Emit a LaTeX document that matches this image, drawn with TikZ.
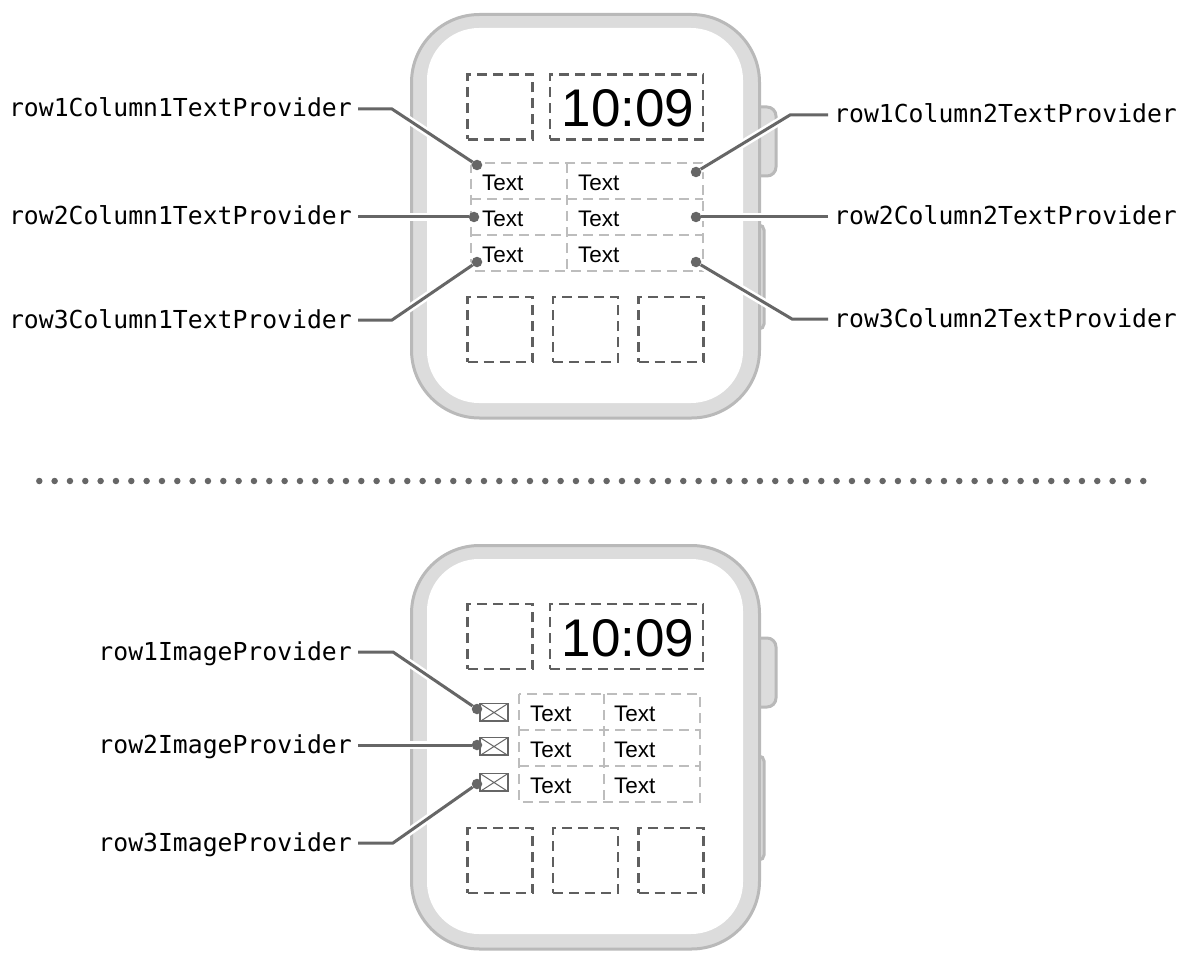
\documentclass[tikz,border=0pt]{standalone}
\usepackage{fontspec}
\setmainfont{Liberation Sans}
\setmonofont{DejaVu Sans Mono}
\usetikzlibrary{calc}
\definecolor{caseline}{HTML}{B9B9B9}
\definecolor{casefill}{HTML}{DCDCDC}
\definecolor{leadcol}{HTML}{666666}
\definecolor{slotcol}{HTML}{5F5F5F}
\definecolor{gridcol}{HTML}{BDBDBD}
\tikzset{
    casepart/.style={draw=caseline, fill=casefill, line width=3pt},
    slot/.style={draw=slotcol, line width=2.5pt, dash pattern=on 10pt off 6pt, inner sep=0pt, minimum width=65pt, minimum height=65pt},
    gridline/.style={draw=gridcol, line width=2.5pt, dash pattern=on 10pt off 6pt},
    clock/.style={font=\fontsize{53}{53}\selectfont, text=black},
    celltext/.style={anchor=base west, inner sep=0pt, font=\fontsize{22.5}{22.5}\selectfont},
    provider/.style={font=\ttfamily\fontsize{24.75}{24.75}\selectfont, inner sep=6pt, text height=17pt, text depth=1pt},
    leftlabel/.style={provider, anchor=east},
    rightlabel/.style={provider, anchor=west},
    pin/.style={circle, fill=leadcol, inner sep=0pt, minimum size=10.5pt},
    leader/.style={draw=leadcol, line width=3pt, preaction={draw=white, line width=8pt}},
    sepdot/.style={circle, fill=leadcol, inner sep=0pt, minimum size=6.5pt},
    mailicon/.style={draw=leadcol, line width=1.2pt, inner sep=0pt, minimum width=28pt, minimum height=18pt,
        path picture={\draw[leadcol, line width=1pt] (path picture bounding box.north west) -- (path picture bounding box.south east)
            (path picture bounding box.north east) -- (path picture bounding box.south west);
            \draw[leadcol, line width=3pt] (path picture bounding box.south west) -- (path picture bounding box.south east);}},
}
\newcommand{\WatchCase}[3]{
    \begin{scope}[shift={(0,#1)}]
        \path[casepart] (759,107) -- (766,107) [rounded corners=9pt] -- (776,107) -- (776,176) [sharp corners] -- (759,176) -- cycle;
        \path[casepart] (759,225) [rounded corners=5pt] -- (764,225) -- (764,329) [sharp corners] -- (759,329) -- cycle;
        \path[casepart, rounded corners=68pt] (411.5,14.5) rectangle (759.5,418);
        \fill[white, rounded corners=52pt] (427,28) rectangle (743,403);
        \node[slot] (#2tl) at (500,#3) {};
        \node[slot, minimum width=153pt] (#2time) at (626.5,#3) {};
        \node[clock] (#2clock) at (628,#3+1.5) {10:09};
        \node[slot] (#2bl) at (500,329.5) {};
        \node[slot] (#2bm) at (585.5,329.5) {};
        \node[slot] (#2br) at (671,329.5) {};
    \end{scope}
}

\begin{document}
\begin{tikzpicture}[x=1pt, y=-1pt]
    \useasboundingbox (0,0) rectangle (1187,963);

    % top watch
    \WatchCase{0}{up}{107}
    \draw[gridline] (471,163) rectangle (703,271);
    \draw[gridline] (471,199) -- (703,199);
    \draw[gridline] (471,235) -- (703,235);
    \draw[gridline] (567,163) -- (567,271);
    \node[celltext] (upAa) at (482,190) {Text};
    \node[celltext] (upAb) at (578,190) {Text};
    \node[celltext] (upBa) at (482,226) {Text};
    \node[celltext] (upBb) at (578,226) {Text};
    \node[celltext] (upCa) at (482,262) {Text};
    \node[celltext] (upCb) at (578,262) {Text};

    \node[leftlabel] (rowAcolA) at (358,109) {row1Column1TextProvider};
    \node[leftlabel] (rowBcolA) at (358,217) {row2Column1TextProvider};
    \node[leftlabel] (rowCcolA) at (358,320) {row3Column1TextProvider};
    \node[rightlabel] (rowAcolB) at (828,115) {row1Column2TextProvider};
    \node[rightlabel] (rowBcolB) at (828,217) {row2Column2TextProvider};
    \node[rightlabel] (rowCcolB) at (828,319) {row3Column2TextProvider};

    \node[pin] (pinAa) at (477,165) {};
    \node[pin] (pinBa) at (474,217) {};
    \node[pin] (pinCa) at (477,262) {};
    \node[pin] (pinAb) at (696,172) {};
    \node[pin] (pinBb) at (696,217) {};
    \node[pin] (pinCb) at (696,262) {};

    \coordinate (bendAa) at (392,109);
    \coordinate (bendCa) at (392,320);
    \coordinate (bendAb) at (790,115);
    \coordinate (bendCb) at (792,319);

    \draw[leader] (rowAcolA.east) -- (bendAa) -- (pinAa);
    \draw[leader] (rowBcolA.east) -- (pinBa);
    \draw[leader] (rowCcolA.east) -- (bendCa) -- (pinCa);
    \draw[leader] (rowAcolB.west) -- (bendAb) -- (pinAb);
    \draw[leader] (rowBcolB.west) -- (pinBb);
    \draw[leader] (rowCcolB.west) -- (bendCb) -- (pinCb);

    % separator
    \foreach \i in {0,...,72} {
        \node[sepdot] (sep\i) at ({39.3+\i*15.333},481) {};
    }

    % bottom watch
    \WatchCase{531}{low}{105.5}
    \draw[gridline] (519,694) rectangle (700,802);
    \draw[gridline] (519,730) -- (700,730);
    \draw[gridline] (519,766) -- (700,766);
    \draw[gridline] (604,694) -- (604,802);
    \node[celltext] (lowAa) at (530,721) {Text};
    \node[celltext] (lowAb) at (614,721) {Text};
    \node[celltext] (lowBa) at (530,757) {Text};
    \node[celltext] (lowBb) at (614,757) {Text};
    \node[celltext] (lowCa) at (530,793) {Text};
    \node[celltext] (lowCb) at (614,793) {Text};

    \node[mailicon] (mailA) at (494,712.5) {};
    \node[mailicon] (mailB) at (494,746.5) {};
    \node[mailicon] (mailC) at (494,782.5) {};

    \node[leftlabel] (imageA) at (358,652) {row1ImageProvider};
    \node[leftlabel] (imageB) at (358,745) {row2ImageProvider};
    \node[leftlabel] (imageC) at (358,843) {row3ImageProvider};

    \node[pin] (pinImgA) at (477,709) {};
    \node[pin] (pinImgB) at (477,745) {};
    \node[pin] (pinImgC) at (477,784) {};

    \coordinate (bendImgA) at (393,652);
    \coordinate (bendImgC) at (393,843);

    \draw[leader] (imageA.east) -- (bendImgA) -- (pinImgA);
    \draw[leader] (imageB.east) -- (pinImgB);
    \draw[leader] (imageC.east) -- (bendImgC) -- (pinImgC);
\end{tikzpicture}
\end{document}
